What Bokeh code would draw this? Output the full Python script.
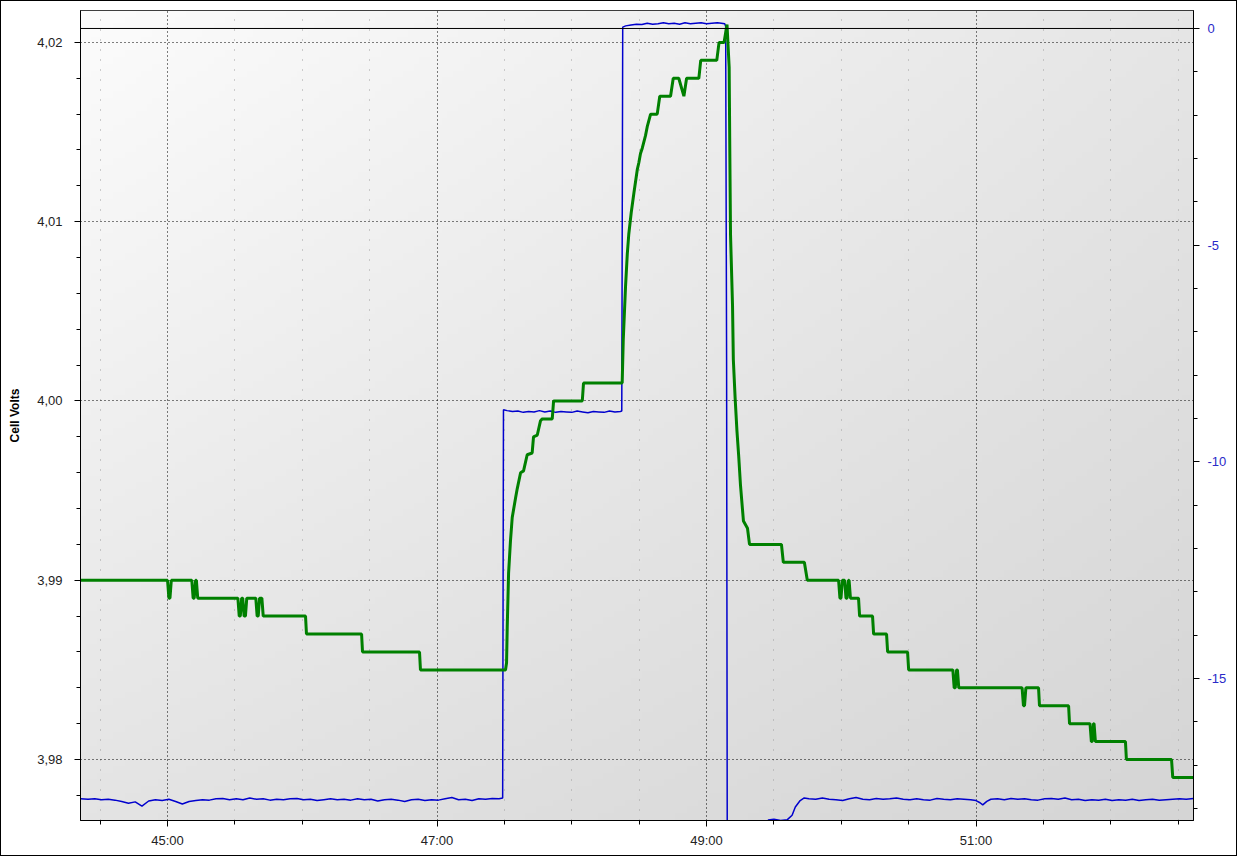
import numpy as np
from bokeh.plotting import figure
from bokeh.models import Range1d, LinearAxis, FixedTicker, CustomJSTickFormatter, Span
from bokeh.embed import file_html
from bokeh.resources import INLINE

# ---------------- data (time in minutes) ----------------
volt_time = [44.354, 45.000, 45.010, 45.018, 45.028, 45.180, 45.190, 45.198, 45.208, 45.214,
             45.224, 45.522, 45.532, 45.540, 45.550, 45.558, 45.568, 45.578, 45.588, 45.655,
             45.665, 45.673, 45.683, 45.700, 45.710, 46.024, 46.031, 46.440, 46.447, 46.870,
             46.877, 47.508, 47.516, 47.521, 47.531, 47.545, 47.558, 47.583, 47.595, 47.620,
             47.642, 47.669, 47.706, 47.716, 47.744, 47.768, 47.781, 47.855, 47.865, 48.078,
             48.087, 48.374, 48.382, 48.399, 48.412, 48.423, 48.441, 48.461, 48.486, 48.498,
             48.510, 48.523, 48.547, 48.560, 48.585, 48.634, 48.653, 48.733, 48.753, 48.794,
             48.832, 48.852, 48.943, 48.957, 49.076, 49.093, 49.130, 49.152, 49.168, 49.173,
             49.178, 49.193, 49.199, 49.212, 49.226, 49.239, 49.252, 49.274, 49.304, 49.319,
             49.556, 49.570, 49.726, 49.748, 49.980, 49.990, 49.998, 50.008, 50.025, 50.035,
             50.043, 50.053, 50.058, 50.068, 50.128, 50.136, 50.232, 50.240, 50.336, 50.344,
             50.492, 50.500, 50.828, 50.838, 50.846, 50.856, 50.862, 50.872, 51.342, 51.352,
             51.360, 51.370, 51.464, 51.471, 51.687, 51.694, 51.846, 51.856, 51.862, 51.872,
             51.876, 51.886, 52.109, 52.116, 52.451, 52.460, 52.614]
volt_value = [3.990, 3.990, 3.989, 3.989, 3.990, 3.990, 3.989, 3.989, 3.990, 3.990,
              3.989, 3.989, 3.988, 3.988, 3.989, 3.989, 3.988, 3.988, 3.989, 3.989,
              3.988, 3.988, 3.989, 3.989, 3.988, 3.988, 3.987, 3.987, 3.986, 3.986,
              3.985, 3.985, 3.9854, 3.9874, 3.9904, 3.9922, 3.9935, 3.9946, 3.9951, 3.9960,
              3.9961, 3.9970, 3.9971, 3.9980, 3.9981, 3.9989, 3.9990, 3.9990, 4.0000, 4.0000,
              4.0010, 4.0010, 4.0034, 4.0064, 4.0082, 4.0093, 4.0105, 4.0116, 4.0129, 4.0133,
              4.0138, 4.0141, 4.0148, 4.0153, 4.0160, 4.0160, 4.0170, 4.0170, 4.0180, 4.0180,
              4.0170, 4.0180, 4.0180, 4.0190, 4.0190, 4.0200, 4.0200, 4.0210, 4.0186, 4.0137,
              4.0093, 4.0053, 4.0023, 4.0002, 3.9983, 3.9969, 3.9953, 3.9933, 3.9929, 3.9920,
              3.9920, 3.9910, 3.9910, 3.9900, 3.9900, 3.9890, 3.9890, 3.9900, 3.9900, 3.9890,
              3.9890, 3.9900, 3.9900, 3.9890, 3.9890, 3.9880, 3.9880, 3.9870, 3.9870, 3.9860,
              3.9860, 3.9850, 3.9850, 3.9840, 3.9840, 3.9850, 3.9850, 3.9840, 3.9840, 3.9830,
              3.9830, 3.9840, 3.9840, 3.9830, 3.9830, 3.9820, 3.9820, 3.9810, 3.9810, 3.9820,
              3.9820, 3.9810, 3.9810, 3.9800, 3.9800, 3.9790, 3.9790]

amp_time = [44.354, 44.41, 44.46, 44.51, 44.56, 44.61, 44.66, 44.71, 44.76, 44.81,
            44.86, 44.91, 44.96, 45.01, 45.06, 45.11, 45.16, 45.21, 45.26, 45.31,
            45.36, 45.41, 45.46, 45.51, 45.56, 45.61, 45.66, 45.71, 45.76, 45.81,
            45.86, 45.91, 45.96, 46.01, 46.06, 46.11, 46.16, 46.21, 46.26, 46.31,
            46.36, 46.41, 46.46, 46.51, 46.56, 46.61, 46.66, 46.71, 46.76, 46.81,
            46.86, 46.91, 46.96, 47.01, 47.06, 47.11, 47.16, 47.21, 47.26, 47.31,
            47.36, 47.41, 47.46, 47.487,
            47.493, 47.52, 47.56, 47.60, 47.64, 47.68, 47.72, 47.76, 47.80, 47.84,
            47.88, 47.92, 47.96, 48.00, 48.04, 48.08, 48.12, 48.16, 48.20, 48.24,
            48.28, 48.32, 48.36, 48.371,
            48.378, 48.40, 48.44, 48.48, 48.52, 48.56, 48.60, 48.64, 48.68, 48.72,
            48.76, 48.80, 48.84, 48.88, 48.92, 48.96, 49.00, 49.04, 49.08, 49.11,
            49.135, 49.142, 49.149, 49.156, 49.45, 49.458, 49.50, 49.55, 49.60, 49.635,
            49.659, 49.695, 49.725, 49.76, 49.81, 49.86, 49.91, 49.96, 50.01, 50.06,
            50.11, 50.16, 50.21, 50.26, 50.31, 50.36, 50.41, 50.46, 50.51, 50.56,
            50.61, 50.66, 50.71, 50.76, 50.81, 50.86, 50.91, 50.96, 51.00, 51.03,
            51.05, 51.08, 51.11, 51.16, 51.21, 51.26, 51.31, 51.36, 51.41, 51.46,
            51.51, 51.56, 51.61, 51.66, 51.71, 51.76, 51.81, 51.86, 51.91, 51.96,
            52.01, 52.06, 52.11, 52.16, 52.21, 52.26, 52.31, 52.36, 52.41, 52.46,
            52.51, 52.56, 52.614]
amp_value = [-17.78, -17.79, -17.78, -17.80, -17.79, -17.81, -17.84, -17.88, -17.85, -17.95,
             -17.83, -17.80, -17.82, -17.79, -17.84, -17.90, -17.84, -17.82, -17.80, -17.81,
             -17.78, -17.77, -17.80, -17.78, -17.80, -17.76, -17.79, -17.78, -17.81, -17.79,
             -17.80, -17.78, -17.77, -17.80, -17.79, -17.82, -17.80, -17.78, -17.80, -17.79,
             -17.81, -17.78, -17.80, -17.79, -17.83, -17.80, -17.79, -17.81, -17.84, -17.80,
             -17.79, -17.82, -17.80, -17.81, -17.78, -17.75, -17.80, -17.79, -17.82, -17.78,
             -17.79, -17.77, -17.78, -17.76,
             -8.80, -8.82, -8.84, -8.83, -8.86, -8.84, -8.85, -8.82, -8.85, -8.83,
             -8.86, -8.84, -8.85, -8.86, -8.83, -8.85, -8.87, -8.84, -8.85, -8.86,
             -8.83, -8.85, -8.84, -8.83,
             0.03, 0.06, 0.08, 0.10, 0.09, 0.12, 0.10, 0.11, 0.13, 0.11,
             0.12, 0.10, 0.13, 0.11, 0.12, 0.13, 0.11, 0.12, 0.13, 0.12,
             0.11, 0.05, -7.8, -24.0, -24.0, -18.27, -18.25, -18.28, -18.26, -18.16,
             -17.97, -17.82, -17.76, -17.78, -17.79, -17.76, -17.79, -17.80, -17.82, -17.78,
             -17.75, -17.79, -17.80, -17.77, -17.79, -17.78, -17.76, -17.79, -17.80, -17.78,
             -17.80, -17.81, -17.77, -17.79, -17.80, -17.78, -17.79, -17.80, -17.82, -17.87,
             -17.92, -17.84, -17.79, -17.78, -17.80, -17.77, -17.79, -17.78, -17.80, -17.81,
             -17.78, -17.77, -17.79, -17.76, -17.80, -17.79, -17.82, -17.80, -17.81, -17.79,
             -17.82, -17.80, -17.81, -17.79, -17.82, -17.80, -17.79, -17.81, -17.80, -17.79,
             -17.78, -17.79, -17.77]

time_ticks = [45, 47, 49, 51]
time_minor = [44.5, 45.5, 46, 46.5, 47.5, 48, 48.5, 49.5, 50, 50.5, 51.5, 52, 52.5]
volt_ticks = [3.98, 3.99, 4.00, 4.01, 4.02]
volt_minor = [3.978, 3.982, 3.984, 3.986, 3.988, 3.992, 3.994, 3.996, 3.998,
              4.002, 4.004, 4.006, 4.008, 4.012, 4.014, 4.016, 4.018, 4.020]
amp_ticks = [-15, -10, -5, 0]
amp_minor = list(range(-18, 1))

X_START, X_END = 44.354, 52.614
V_START, V_END = 3.97660, 4.02178
I_START, I_END = -18.28, 0.415

FONT = "Liberation Sans"

p = figure(width=1237, height=856, output_backend="svg", toolbar_location=None,
           x_range=Range1d(X_START, X_END), y_range=Range1d(V_START, V_END),
           min_border_left=79, min_border_right=45, min_border_top=9, min_border_bottom=37)
p.extra_y_ranges = {"amp": Range1d(I_START, I_END)}
p.background_fill_color = "#e8e8e8"
p.border_fill_color = "white"
p.outline_line_color = "black"
p.outline_line_width = 1
p.styles = {"border": "1px solid black"}

# gradient background of the plot area
ny, nx = 120, 200
u = np.linspace(0, 1, nx)[None, :]
v = np.linspace(0, 1, ny)[:, None]
TL, TR, BL, BR = 252, 230, 228, 213
g = TL * (1 - u) * v + TR * u * v + BL * (1 - u) * (1 - v) + BR * u * (1 - v)
img = np.empty((ny, nx), dtype=np.uint32)
view = img.view(dtype=np.uint8).reshape((ny, nx, 4))
view[..., 0] = g.astype(np.uint8)
view[..., 1] = g.astype(np.uint8)
view[..., 2] = g.astype(np.uint8)
view[..., 3] = 255
p.image_rgba(image=[img], x=X_START, y=V_START, dw=X_END - X_START, dh=V_END - V_START, level="image")

# axes
xa = p.xaxis[0]
xa.ticker = FixedTicker(ticks=time_ticks, minor_ticks=time_minor)
xa.formatter = CustomJSTickFormatter(code="""
var m = Math.floor(tick + 1e-6); var s = Math.round((tick - m) * 60);
return m + ':' + (s < 10 ? '0' + s : '' + s);""")
ya = p.yaxis[0]
ya.ticker = FixedTicker(ticks=volt_ticks, minor_ticks=volt_minor)
ya.formatter = CustomJSTickFormatter(code="return tick.toFixed(2).replace('.', ',');")
ya.axis_label = "Cell Volts"
ya.axis_label_text_font = FONT
ya.axis_label_text_font_size = "12px"
ya.axis_label_text_font_style = "bold"
ya.axis_label_text_color = "black"
ya.axis_label_standoff = 12

ra = LinearAxis(y_range_name="amp", ticker=FixedTicker(ticks=amp_ticks, minor_ticks=amp_minor),
                formatter=CustomJSTickFormatter(code="return tick.toFixed(0);"))
p.add_layout(ra, "right")

for ax in (xa, ya, ra):
    ax.axis_line_color = "black"
    ax.major_tick_line_color = "black"
    ax.minor_tick_line_color = "black"
    ax.major_tick_in = 0
    ax.minor_tick_in = 0
    ax.major_tick_out = 6
    ax.minor_tick_out = 4
    ax.major_label_text_font = FONT
    ax.major_label_text_font_size = "13px"
    ax.major_label_text_color = "#222222"
xa.major_label_standoff = 6
ya.major_label_standoff = 12
ra.major_label_standoff = 8
ra.major_label_text_color = "#2a2ac8"

# grids
p.xgrid.grid_line_color = "black"
p.xgrid.grid_line_dash = "1 3"
p.xgrid.minor_grid_line_color = "#a0a0a0"
p.xgrid.minor_grid_line_dash = "1 9"
p.ygrid.grid_line_color = "black"
p.ygrid.grid_line_dash = "1 3"

# zero line of the current axis
p.add_layout(Span(location=0, dimension="width", y_range_name="amp",
                  line_color="black", line_width=1))

p.line(amp_time, amp_value, y_range_name="amp", line_color="#0000cd", line_width=1.5)
p.line(volt_time, volt_value, line_color="#008000", line_width=3, line_join="bevel")

open("out.html", "w").write(file_html(p, INLINE))
